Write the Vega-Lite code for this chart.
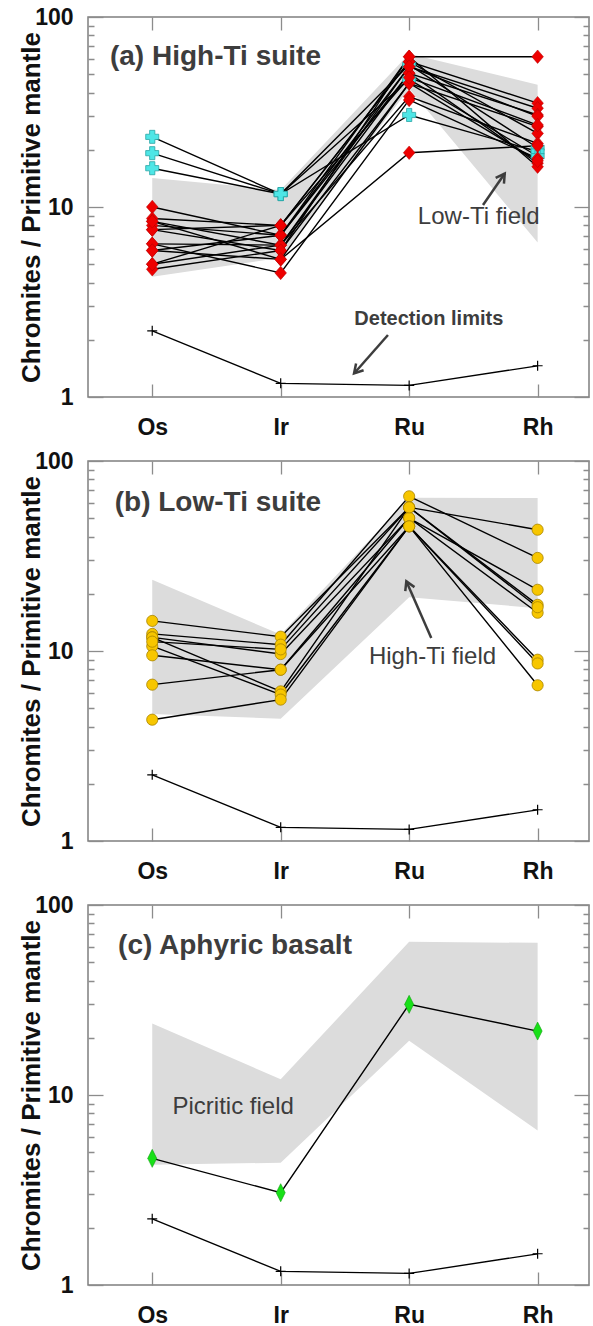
{
"$schema":"https://vega.github.io/schema/vega-lite/v6.json",
"padding":{"left":17,"top":5,"right":0,"bottom":0},
"spacing":9,
"config":{
 "font":"Liberation Sans",
 "view":{"stroke":"#7f7f7f","strokeWidth":1.5},
 "axis":{"grid":false,"domain":false,"ticks":true,"zindex":1,"labelFont":"Liberation Sans","labelFontWeight":"bold","labelFontSize":23,"labelColor":"#111111","tickColor":"#8c8c8c","tickWidth":1.3,"tickOpacity":1,"titleFont":"Liberation Sans","titleFontWeight":"bold","titleFontSize":26,"titleColor":"#111111","labelOverlap":false,"labelFlush":false}
},
"datasets":{
 "fields":[
  {"p":"a","i":0,"lo":4.3,"hi":14.2},{"p":"a","i":1,"lo":5.4,"hi":12.3},{"p":"a","i":2,"lo":42,"hi":64},{"p":"a","i":3,"lo":6.5,"hi":44},
  {"p":"b","i":0,"lo":4.66,"hi":23.7},{"p":"b","i":1,"lo":4.4,"hi":12.2},{"p":"b","i":2,"lo":19.2,"hi":64},{"p":"b","i":3,"lo":16.8,"hi":63.8},
  {"p":"c","i":0,"lo":4.3,"hi":23.8},{"p":"c","i":1,"lo":4.4,"hi":12.1},{"p":"c","i":2,"lo":19.3,"hi":64},{"p":"c","i":3,"lo":6.5,"hi":63.2}
 ],
 "detect":[{"i":0,"v":2.23},{"i":1,"v":1.18},{"i":2,"v":1.15},{"i":3,"v":1.46}],
 "samples":[
  {"p":"a","s":"c1","g":"cyan","i":0,"v":23.4},{"p":"a","s":"c1","g":"cyan","i":1,"v":11.7},{"p":"a","s":"c1","g":"cyan","i":2,"v":56},{"p":"a","s":"c1","g":"cyan","i":3,"v":20.5},
  {"p":"a","s":"c2","g":"cyan","i":0,"v":19.2},{"p":"a","s":"c2","g":"cyan","i":1,"v":11.7},{"p":"a","s":"c2","g":"cyan","i":2,"v":30.5},{"p":"a","s":"c2","g":"cyan","i":3,"v":19.6},
  {"p":"a","s":"c3","g":"cyan","i":0,"v":16.0},{"p":"a","s":"c3","g":"cyan","i":1,"v":11.7},{"p":"a","s":"c3","g":"cyan","i":2,"v":47},{"p":"a","s":"c3","g":"cyan","i":3,"v":18.5},
  {"p":"a","s":"r1","g":"red","i":0,"v":10.0},{"p":"a","s":"r1","g":"red","i":1,"v":7.1},{"p":"a","s":"r1","g":"red","i":2,"v":61.8},{"p":"a","s":"r1","g":"red","i":3,"v":61.8},
  {"p":"a","s":"r2","g":"red","i":0,"v":8.7},{"p":"a","s":"r2","g":"red","i":1,"v":8.0},{"p":"a","s":"r2","g":"red","i":2,"v":58.2},{"p":"a","s":"r2","g":"red","i":3,"v":35.2},
  {"p":"a","s":"r3","g":"red","i":0,"v":8.4},{"p":"a","s":"r3","g":"red","i":1,"v":6.3},{"p":"a","s":"r3","g":"red","i":2,"v":54.8},{"p":"a","s":"r3","g":"red","i":3,"v":33.1},
  {"p":"a","s":"r4","g":"red","i":0,"v":8.0},{"p":"a","s":"r4","g":"red","i":1,"v":7.1},{"p":"a","s":"r4","g":"red","i":2,"v":50.6},{"p":"a","s":"r4","g":"red","i":3,"v":30.5},
  {"p":"a","s":"r5","g":"red","i":0,"v":7.6},{"p":"a","s":"r5","g":"red","i":1,"v":5.9},{"p":"a","s":"r5","g":"red","i":2,"v":44.8},{"p":"a","s":"r5","g":"red","i":3,"v":26.5},
  {"p":"a","s":"r6","g":"red","i":0,"v":7.6},{"p":"a","s":"r6","g":"red","i":1,"v":8.0},{"p":"a","s":"r6","g":"red","i":2,"v":58.2},{"p":"a","s":"r6","g":"red","i":3,"v":24.4},
  {"p":"a","s":"r7","g":"red","i":0,"v":6.4},{"p":"a","s":"r7","g":"red","i":1,"v":6.3},{"p":"a","s":"r7","g":"red","i":2,"v":38.1},{"p":"a","s":"r7","g":"red","i":3,"v":21.6},
  {"p":"a","s":"r8","g":"red","i":0,"v":6.4},{"p":"a","s":"r8","g":"red","i":1,"v":4.5},{"p":"a","s":"r8","g":"red","i":2,"v":36.6},{"p":"a","s":"r8","g":"red","i":3,"v":18.0},
  {"p":"a","s":"r9","g":"red","i":0,"v":5.9},{"p":"a","s":"r9","g":"red","i":1,"v":5.3},{"p":"a","s":"r9","g":"red","i":2,"v":19.3},{"p":"a","s":"r9","g":"red","i":3,"v":21.0},
  {"p":"a","s":"r10","g":"red","i":0,"v":5.0},{"p":"a","s":"r10","g":"red","i":1,"v":6.3},{"p":"a","s":"r10","g":"red","i":2,"v":50.6},{"p":"a","s":"r10","g":"red","i":3,"v":17.0},
  {"p":"a","s":"r11","g":"red","i":0,"v":4.7},{"p":"a","s":"r11","g":"red","i":1,"v":5.9},{"p":"a","s":"r11","g":"red","i":2,"v":61.8},{"p":"a","s":"r11","g":"red","i":3,"v":16.3},
  {"p":"a","s":"r12","g":"red","i":0,"v":5.9},{"p":"a","s":"r12","g":"red","i":1,"v":7.1},{"p":"a","s":"r12","g":"red","i":2,"v":54.8},{"p":"a","s":"r12","g":"red","i":3,"v":30.0},
  {"p":"a","s":"r13","g":"red","i":0,"v":8.4},{"p":"a","s":"r13","g":"red","i":1,"v":5.3},{"p":"a","s":"r13","g":"red","i":2,"v":44.8},{"p":"a","s":"r13","g":"red","i":3,"v":17.5},
  {"p":"a","s":"r14","g":"red","i":0,"v":5.0},{"p":"a","s":"r14","g":"red","i":1,"v":8.0},{"p":"a","s":"r14","g":"red","i":2,"v":48.0},{"p":"a","s":"r14","g":"red","i":3,"v":27.0},
  {"p":"b","s":"y1","g":"yellow","i":0,"v":14.4},{"p":"b","s":"y1","g":"yellow","i":1,"v":11.9},{"p":"b","s":"y1","g":"yellow","i":2,"v":57.0},{"p":"b","s":"y1","g":"yellow","i":3,"v":43.5},
  {"p":"b","s":"y2","g":"yellow","i":0,"v":12.3},{"p":"b","s":"y2","g":"yellow","i":1,"v":10.8},{"p":"b","s":"y2","g":"yellow","i":2,"v":65.2},{"p":"b","s":"y2","g":"yellow","i":3,"v":30.9},
  {"p":"b","s":"y3","g":"yellow","i":0,"v":11.8},{"p":"b","s":"y3","g":"yellow","i":1,"v":9.64},{"p":"b","s":"y3","g":"yellow","i":2,"v":50.1},{"p":"b","s":"y3","g":"yellow","i":3,"v":21.0},
  {"p":"b","s":"y4","g":"yellow","i":0,"v":11.8},{"p":"b","s":"y4","g":"yellow","i":1,"v":6.13},{"p":"b","s":"y4","g":"yellow","i":2,"v":57.0},{"p":"b","s":"y4","g":"yellow","i":3,"v":17.5},
  {"p":"b","s":"y5","g":"yellow","i":0,"v":10.6},{"p":"b","s":"y5","g":"yellow","i":1,"v":5.9},{"p":"b","s":"y5","g":"yellow","i":2,"v":45.3},{"p":"b","s":"y5","g":"yellow","i":3,"v":9.0},
  {"p":"b","s":"y6","g":"yellow","i":0,"v":9.49},{"p":"b","s":"y6","g":"yellow","i":1,"v":7.97},{"p":"b","s":"y6","g":"yellow","i":2,"v":50.1},{"p":"b","s":"y6","g":"yellow","i":3,"v":15.9},
  {"p":"b","s":"y7","g":"yellow","i":0,"v":6.65},{"p":"b","s":"y7","g":"yellow","i":1,"v":7.97},{"p":"b","s":"y7","g":"yellow","i":2,"v":45.3},{"p":"b","s":"y7","g":"yellow","i":3,"v":8.6},
  {"p":"b","s":"y8","g":"yellow","i":0,"v":4.35},{"p":"b","s":"y8","g":"yellow","i":1,"v":5.55},{"p":"b","s":"y8","g":"yellow","i":2,"v":45.3},{"p":"b","s":"y8","g":"yellow","i":3,"v":6.6},
  {"p":"b","s":"y9","g":"yellow","i":0,"v":11.2},{"p":"b","s":"y9","g":"yellow","i":1,"v":10.2},{"p":"b","s":"y9","g":"yellow","i":2,"v":57.0},{"p":"b","s":"y9","g":"yellow","i":3,"v":17.0},
  {"p":"c","s":"g1","g":"green","i":0,"v":4.64},{"p":"c","s":"g1","g":"green","i":1,"v":3.06},{"p":"c","s":"g1","g":"green","i":2,"v":30.0},{"p":"c","s":"g1","g":"green","i":3,"v":21.7}
 ],
 "notes":[
  {"p":"a","k":"title","i":-0.329,"v":61.6,"t":"(a) High-Ti suite"},
  {"p":"b","k":"title","i":-0.292,"v":59.9,"t":"(b) Low-Ti suite"},
  {"p":"c","k":"title","i":-0.266,"v":61.0,"t":"(c) Aphyric basalt"},
  {"p":"a","k":"field","i":2.542,"v":8.81,"t":"Low-Ti field"},
  {"p":"b","k":"field","i":2.182,"v":9.33,"t":"High-Ti field"},
  {"p":"c","k":"field","i":0.630,"v":8.6,"t":"Picritic field"},
  {"p":"a","k":"det","i":2.153,"v":2.57,"t":"Detection limits"}
 ],
 "arrows":[
  {"p":"a","k":"det","i":1.835,"v":2.12,"i2":1.571,"v2":1.33},
  {"p":"a","k":"field","i":2.575,"v":10.25,"i2":2.744,"v2":15.0},
  {"p":"b","k":"field","i":2.172,"v":11.7,"i2":1.978,"v2":23.3}
 ]
},
"vconcat":[
 {
  "width":501,"height":380,
  "resolve":{"axis":{"x":"independent","y":"independent"}},
  "layer":[
   {"data":{"name":"fields"},"transform":[{"filter":"datum.p=='a'"}],
    "mark":{"type":"area","color":"#dcdcdc","opacity":1},
    "encoding":{
     "x":{"field":"i","type":"quantitative","scale":{"domain":[-0.5,3.4],"nice":false,"zero":false},
          "axis":{"orient":"bottom","offset":-13,"values":[0,1,2,3],"labelExpr":"['Os','Ir','Ru','Rh'][datum.value]","tickSize":13,"labelPadding":19,"title":null}},
     "y":{"field":"lo","type":"quantitative","scale":{"type":"log","domain":[1,100],"nice":false},
          "axis":{"orient":"left","offset":-15,"values":[1,2,3,4,5,6,7,8,9,10,20,30,40,50,60,70,80,90,100],"labelExpr":"datum.value==1?'1':datum.value==10?'10':datum.value==100?'100':''","tickSize":15,"tickDash":{"condition":{"test":"datum.value==1||datum.value==10||datum.value==100","value":[]},"value":[0,9,6,60]},"labelPadding":15,"title":"Chromites / Primitive mantle","titlePadding":-10}},
     "y2":{"field":"hi"}}},
   {"data":{"name":"detect"},
    "mark":{"type":"line","color":"#000000","strokeWidth":1.3},
    "encoding":{
     "x":{"field":"i","type":"quantitative","axis":{"orient":"top","offset":-13,"values":[0,1,2,3],"labels":false,"tickSize":13,"title":null}},
     "y":{"field":"v","type":"quantitative","axis":{"orient":"right","offset":-15,"values":[1,2,3,4,5,6,7,8,9,10,20,30,40,50,60,70,80,90,100],"labels":false,"tickSize":15,"tickDash":{"condition":{"test":"datum.value==1||datum.value==10||datum.value==100","value":[]},"value":[0,9,6,60]},"title":null}}}},
   {"data":{"name":"detect"},
    "mark":{"type":"point","shape":"M-1,0L1,0M0,-1L0,1","size":100,"filled":false,"stroke":"#000000","strokeWidth":1.2,"opacity":1},
    "encoding":{"x":{"field":"i","type":"quantitative","axis":null},"y":{"field":"v","type":"quantitative","axis":null}}},
   {"data":{"name":"samples"},"transform":[{"filter":"datum.p=='a'"}],
    "mark":{"type":"line","color":"#000000","strokeWidth":1.4},
    "encoding":{"x":{"field":"i","type":"quantitative","axis":null},"y":{"field":"v","type":"quantitative","axis":null},"detail":{"field":"s"}}},
   {"data":{"name":"samples"},"transform":[{"filter":"datum.g=='cyan'"}],
    "mark":{"type":"point","shape":"cross","size":170,"filled":true,"fill":"#4ee6e6","stroke":"#2aa5a5","strokeWidth":0.8,"opacity":1},
    "encoding":{"x":{"field":"i","type":"quantitative","axis":null},"y":{"field":"v","type":"quantitative","axis":null}}},
   {"data":{"name":"samples"},"transform":[{"filter":"datum.g=='red'"}],
    "mark":{"type":"point","shape":"M0,-1.1L0.95,0L0,1.1L-0.95,0Z","size":150,"filled":true,"fill":"#ee0000","stroke":"#b00000","strokeWidth":0.5,"opacity":1},
    "encoding":{"x":{"field":"i","type":"quantitative","axis":null},"y":{"field":"v","type":"quantitative","axis":null}}},
   {"data":{"name":"notes"},"transform":[{"filter":"datum.p=='a' && datum.k=='title'"}],
    "mark":{"type":"text","align":"left","baseline":"middle","font":"Liberation Sans","fontWeight":"bold","fontSize":28,"color":"#3d3d3d"},
    "encoding":{"x":{"field":"i","type":"quantitative","axis":null},"y":{"field":"v","type":"quantitative","axis":null},"text":{"field":"t"}}},
   {"data":{"name":"notes"},"transform":[{"filter":"datum.p=='a' && datum.k=='field'"}],
    "mark":{"type":"text","align":"center","baseline":"middle","font":"Liberation Sans","fontSize":24,"color":"#3d3d3d"},
    "encoding":{"x":{"field":"i","type":"quantitative","axis":null},"y":{"field":"v","type":"quantitative","axis":null},"text":{"field":"t"}}},
   {"data":{"name":"notes"},"transform":[{"filter":"datum.p=='a' && datum.k=='det'"}],
    "mark":{"type":"text","align":"center","baseline":"middle","font":"Liberation Sans","fontWeight":"bold","fontSize":20,"color":"#3d3d3d"},
    "encoding":{"x":{"field":"i","type":"quantitative","axis":null},"y":{"field":"v","type":"quantitative","axis":null},"text":{"field":"t"}}},
   {"data":{"name":"arrows"},"transform":[{"filter":"datum.p=='a'"}],
    "mark":{"type":"rule","color":"#3d3d3d","strokeWidth":2.5},
    "encoding":{"x":{"field":"i","type":"quantitative","axis":null},"y":{"field":"v","type":"quantitative","axis":null},"x2":{"field":"i2"},"y2":{"field":"v2"}}},
   {"data":{"name":"arrows"},"transform":[{"filter":"datum.p=='a' && datum.k=='det'"}],
    "mark":{"type":"point","shape":"M-0.75,1.3L0,0L0.75,1.3","size":180,"filled":false,"stroke":"#3d3d3d","strokeWidth":2.5,"opacity":1,"angle":221.6},
    "encoding":{"x":{"field":"i2","type":"quantitative","axis":null},"y":{"field":"v2","type":"quantitative","axis":null}}},
   {"data":{"name":"arrows"},"transform":[{"filter":"datum.p=='a' && datum.k=='field'"}],
    "mark":{"type":"point","shape":"M-0.75,1.3L0,0L0.75,1.3","size":180,"filled":false,"stroke":"#3d3d3d","strokeWidth":2.5,"opacity":1,"angle":34.4},
    "encoding":{"x":{"field":"i2","type":"quantitative","axis":null},"y":{"field":"v2","type":"quantitative","axis":null}}}
  ]
 },
 {
  "width":501,"height":380,
  "resolve":{"axis":{"x":"independent","y":"independent"}},
  "layer":[
   {"data":{"name":"fields"},"transform":[{"filter":"datum.p=='b'"}],
    "mark":{"type":"area","color":"#dcdcdc","opacity":1},
    "encoding":{
     "x":{"field":"i","type":"quantitative","scale":{"domain":[-0.5,3.4],"nice":false,"zero":false},
          "axis":{"orient":"bottom","offset":-13,"values":[0,1,2,3],"labelExpr":"['Os','Ir','Ru','Rh'][datum.value]","tickSize":13,"labelPadding":19,"title":null}},
     "y":{"field":"lo","type":"quantitative","scale":{"type":"log","domain":[1,100],"nice":false},
          "axis":{"orient":"left","offset":-15,"values":[1,2,3,4,5,6,7,8,9,10,20,30,40,50,60,70,80,90,100],"labelExpr":"datum.value==1?'1':datum.value==10?'10':datum.value==100?'100':''","tickSize":15,"tickDash":{"condition":{"test":"datum.value==1||datum.value==10||datum.value==100","value":[]},"value":[0,9,6,60]},"labelPadding":15,"title":"Chromites / Primitive mantle","titlePadding":-10}},
     "y2":{"field":"hi"}}},
   {"data":{"name":"detect"},
    "mark":{"type":"line","color":"#000000","strokeWidth":1.3},
    "encoding":{
     "x":{"field":"i","type":"quantitative","axis":{"orient":"top","offset":-13,"values":[0,1,2,3],"labels":false,"tickSize":13,"title":null}},
     "y":{"field":"v","type":"quantitative","axis":{"orient":"right","offset":-15,"values":[1,2,3,4,5,6,7,8,9,10,20,30,40,50,60,70,80,90,100],"labels":false,"tickSize":15,"tickDash":{"condition":{"test":"datum.value==1||datum.value==10||datum.value==100","value":[]},"value":[0,9,6,60]},"title":null}}}},
   {"data":{"name":"detect"},
    "mark":{"type":"point","shape":"M-1,0L1,0M0,-1L0,1","size":100,"filled":false,"stroke":"#000000","strokeWidth":1.2,"opacity":1},
    "encoding":{"x":{"field":"i","type":"quantitative","axis":null},"y":{"field":"v","type":"quantitative","axis":null}}},
   {"data":{"name":"samples"},"transform":[{"filter":"datum.p=='b'"}],
    "mark":{"type":"line","color":"#000000","strokeWidth":1.4},
    "encoding":{"x":{"field":"i","type":"quantitative","axis":null},"y":{"field":"v","type":"quantitative","axis":null},"detail":{"field":"s"}}},
   {"data":{"name":"samples"},"transform":[{"filter":"datum.g=='yellow'"}],
    "mark":{"type":"point","shape":"circle","size":125,"filled":true,"fill":"#f7c600","stroke":"#a88400","strokeWidth":0.8,"opacity":1},
    "encoding":{"x":{"field":"i","type":"quantitative","axis":null},"y":{"field":"v","type":"quantitative","axis":null}}},
   {"data":{"name":"notes"},"transform":[{"filter":"datum.p=='b' && datum.k=='title'"}],
    "mark":{"type":"text","align":"left","baseline":"middle","font":"Liberation Sans","fontWeight":"bold","fontSize":28,"color":"#3d3d3d"},
    "encoding":{"x":{"field":"i","type":"quantitative","axis":null},"y":{"field":"v","type":"quantitative","axis":null},"text":{"field":"t"}}},
   {"data":{"name":"notes"},"transform":[{"filter":"datum.p=='b' && datum.k=='field'"}],
    "mark":{"type":"text","align":"center","baseline":"middle","font":"Liberation Sans","fontSize":24,"color":"#3d3d3d"},
    "encoding":{"x":{"field":"i","type":"quantitative","axis":null},"y":{"field":"v","type":"quantitative","axis":null},"text":{"field":"t"}}},
   {"data":{"name":"arrows"},"transform":[{"filter":"datum.p=='b'"}],
    "mark":{"type":"rule","color":"#3d3d3d","strokeWidth":2.5},
    "encoding":{"x":{"field":"i","type":"quantitative","axis":null},"y":{"field":"v","type":"quantitative","axis":null},"x2":{"field":"i2"},"y2":{"field":"v2"}}},
   {"data":{"name":"arrows"},"transform":[{"filter":"datum.p=='b'"}],
    "mark":{"type":"point","shape":"M-0.75,1.3L0,0L0.75,1.3","size":180,"filled":false,"stroke":"#3d3d3d","strokeWidth":2.5,"opacity":1,"angle":336},
    "encoding":{"x":{"field":"i2","type":"quantitative","axis":null},"y":{"field":"v2","type":"quantitative","axis":null}}}
  ]
 },
 {
  "width":501,"height":380,
  "resolve":{"axis":{"x":"independent","y":"independent"}},
  "layer":[
   {"data":{"name":"fields"},"transform":[{"filter":"datum.p=='c'"}],
    "mark":{"type":"area","color":"#dcdcdc","opacity":1},
    "encoding":{
     "x":{"field":"i","type":"quantitative","scale":{"domain":[-0.5,3.4],"nice":false,"zero":false},
          "axis":{"orient":"bottom","offset":-13,"values":[0,1,2,3],"labelExpr":"['Os','Ir','Ru','Rh'][datum.value]","tickSize":13,"labelPadding":19,"title":null}},
     "y":{"field":"lo","type":"quantitative","scale":{"type":"log","domain":[1,100],"nice":false},
          "axis":{"orient":"left","offset":-15,"values":[1,2,3,4,5,6,7,8,9,10,20,30,40,50,60,70,80,90,100],"labelExpr":"datum.value==1?'1':datum.value==10?'10':datum.value==100?'100':''","tickSize":15,"tickDash":{"condition":{"test":"datum.value==1||datum.value==10||datum.value==100","value":[]},"value":[0,9,6,60]},"labelPadding":15,"title":"Chromites / Primitive mantle","titlePadding":-10}},
     "y2":{"field":"hi"}}},
   {"data":{"name":"detect"},
    "mark":{"type":"line","color":"#000000","strokeWidth":1.3},
    "encoding":{
     "x":{"field":"i","type":"quantitative","axis":{"orient":"top","offset":-13,"values":[0,1,2,3],"labels":false,"tickSize":13,"title":null}},
     "y":{"field":"v","type":"quantitative","axis":{"orient":"right","offset":-15,"values":[1,2,3,4,5,6,7,8,9,10,20,30,40,50,60,70,80,90,100],"labels":false,"tickSize":15,"tickDash":{"condition":{"test":"datum.value==1||datum.value==10||datum.value==100","value":[]},"value":[0,9,6,60]},"title":null}}}},
   {"data":{"name":"detect"},
    "mark":{"type":"point","shape":"M-1,0L1,0M0,-1L0,1","size":100,"filled":false,"stroke":"#000000","strokeWidth":1.2,"opacity":1},
    "encoding":{"x":{"field":"i","type":"quantitative","axis":null},"y":{"field":"v","type":"quantitative","axis":null}}},
   {"data":{"name":"samples"},"transform":[{"filter":"datum.p=='c'"}],
    "mark":{"type":"line","color":"#000000","strokeWidth":1.4},
    "encoding":{"x":{"field":"i","type":"quantitative","axis":null},"y":{"field":"v","type":"quantitative","axis":null},"detail":{"field":"s"}}},
   {"data":{"name":"samples"},"transform":[{"filter":"datum.g=='green'"}],
    "mark":{"type":"point","shape":"M0,-1L0.5,0L0,1L-0.5,0Z","size":324,"filled":true,"fill":"#18e018","stroke":"#0f9f0f","strokeWidth":0.6,"opacity":1},
    "encoding":{"x":{"field":"i","type":"quantitative","axis":null},"y":{"field":"v","type":"quantitative","axis":null}}},
   {"data":{"name":"notes"},"transform":[{"filter":"datum.p=='c' && datum.k=='title'"}],
    "mark":{"type":"text","align":"left","baseline":"middle","font":"Liberation Sans","fontWeight":"bold","fontSize":28,"color":"#3d3d3d"},
    "encoding":{"x":{"field":"i","type":"quantitative","axis":null},"y":{"field":"v","type":"quantitative","axis":null},"text":{"field":"t"}}},
   {"data":{"name":"notes"},"transform":[{"filter":"datum.p=='c' && datum.k=='field'"}],
    "mark":{"type":"text","align":"center","baseline":"middle","font":"Liberation Sans","fontSize":24,"color":"#3d3d3d"},
    "encoding":{"x":{"field":"i","type":"quantitative","axis":null},"y":{"field":"v","type":"quantitative","axis":null},"text":{"field":"t"}}}
  ]
 }
]
}
